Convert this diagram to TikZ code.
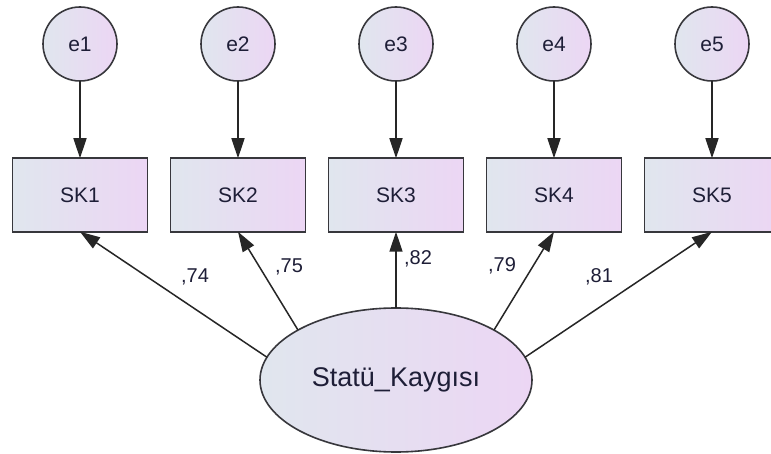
\documentclass[tikz,border=0pt]{standalone}
\usepackage{fontspec}
\setmainfont{Liberation Sans}
\usetikzlibrary{shapes.geometric,arrows.meta}
\definecolor{shadeL}{RGB}{224,230,238}
\definecolor{shadeR}{RGB}{236,214,244}
\definecolor{edgecol}{RGB}{55,55,60}
\definecolor{txtcol}{RGB}{30,30,55}
\tikzset{
  base/.style={draw=edgecol, line width=1.6pt, left color=shadeL, right color=shadeR,
    inner sep=0pt, outer sep=0pt, text=txtcol, font=\fontsize{21}{25}\selectfont},
  errc/.style={base, circle, minimum size=74pt},
  obsbox/.style={base, rectangle, minimum width=135pt, minimum height=73.5pt},
  latent/.style={base, ellipse, minimum width=272pt, minimum height=144pt, font=\fontsize{27}{32}\selectfont},
  arr/.style={draw=black!85, line width=1.5pt, -{Triangle[length=20pt,width=13pt]}},
  lbl/.style={text=txtcol, font=\fontsize{20}{24}\selectfont, inner sep=0pt}
}
\begin{document}
\begin{tikzpicture}[x=1pt,y=-1pt]
\clip (0,0) rectangle (771,454);
\fill[white] (0,0) rectangle (771,454);
\foreach \i/\x in {1/80,2/238,3/396,4/554,5/712}{
  \node[errc] (e\i) at (\x,44) {e\i};
  \node[obsbox] (SK\i) at (\x,195) {SK\i};
  \draw[arr] (e\i) -- (SK\i);
}
\node[latent] (S) at (396,380) {Statü\_Kaygısı};
\draw[arr] (S.170) -- (SK1.south);
\draw[arr] (S.153) -- (SK2.south);
\draw[arr] (S.north) -- (SK3.south);
\draw[arr] (S.27) -- (SK4.south);
\draw[arr] (S.10) -- (SK5.south);
\node[lbl] (l1) at (195,277) {,74};
\node[lbl] (l2) at (289,267) {,75};
\node[lbl] (l3) at (418,259) {,82};
\node[lbl] (l4) at (502,266) {,79};
\node[lbl] (l5) at (599,277) {,81};
\end{tikzpicture}
\end{document}
